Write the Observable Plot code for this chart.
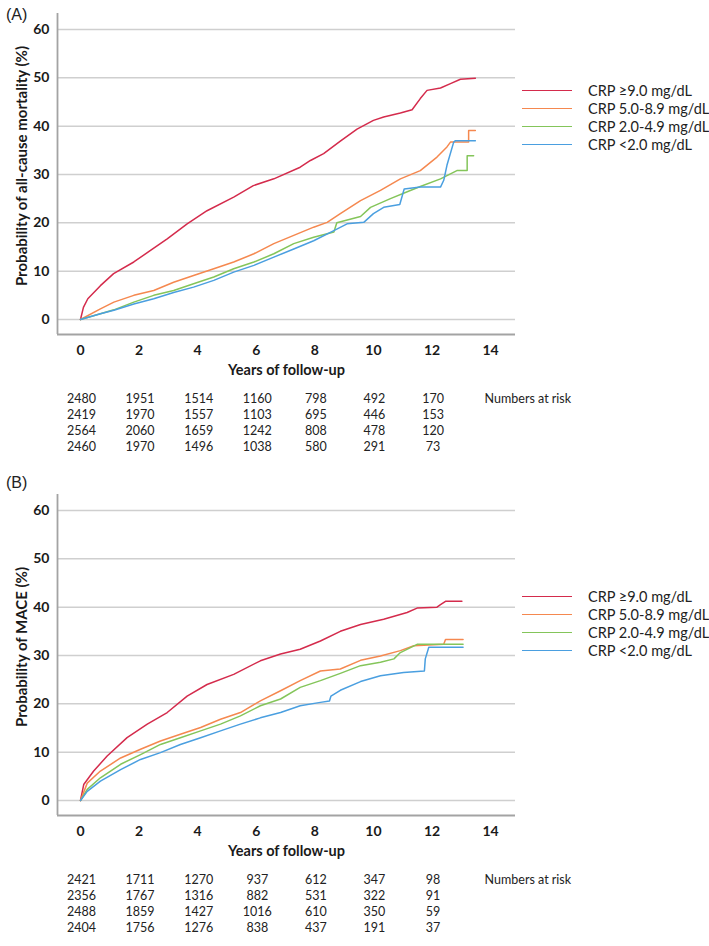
<!DOCTYPE html>
<html>
<head>
<meta charset="utf-8">
<script src="https://cdn.jsdelivr.net/npm/d3@7"></script>
<script src="https://cdn.jsdelivr.net/npm/@observablehq/plot@0.6"></script>
<style>
  body { margin: 0; background: #fff; }
  #root { position: relative; width: 709px; height: 946px; overflow: hidden; font-family: Lato, "Open Sans", sans-serif; color: #1a1a1a; }
  .abs { position: absolute; left: 0; }
  .plabel { position: absolute; left: 6px; font-family: "Liberation Sans", Arial, sans-serif; font-size: 16px; line-height: 16px; color: #222; }
  .lrow { position: absolute; left: 522px; height: 0; }
  .lsw { position: absolute; left: 0; top: -1px; width: 50px; height: 0; border-top: 1.6px solid; }
  .ltx { position: absolute; left: 66px; top: -9px; line-height: 18px; font-size: 14.5px; white-space: nowrap; color: #222; }
</style>
</head>
<body>
<div id="root"></div>
<script>
// ---------- data ----------
const groups = ["CRP ≥9.0 mg/dL", "CRP 5.0-8.9 mg/dL", "CRP 2.0-4.9 mg/dL", "CRP <2.0 mg/dL"];
const colors = ["#d42b4c", "#f5884f", "#84c55a", "#4a9fe0"];
const xTicks = [0, 2, 4, 6, 8, 10, 12, 14];
const yTicks = [0, 10, 20, 30, 40, 50, 60];
const riskTimes = [0, 2, 4, 6, 8, 10, 12];
const xLabel = "Years of follow-up";
const yLabelA = "Probability of all-cause mortality (%)";
const yLabelB = "Probability of MACE (%)";
const riskLabel = "Numbers at risk";

// Panel A: all-cause mortality, [years, %]
const mortRed = [[0,0],[0.1,2.5],[0.25,4.3],[0.68,7],[1.13,9.5],[1.82,11.9],[2.39,14.3],[2.96,16.7],[3.64,19.8],[4.32,22.5],[5.23,25.3],[5.9,27.7],[6.6,29.1],[7.5,31.5],[7.85,32.9],[8.3,34.3],[8.87,36.9],[9.44,39.4],[10.0,41.2],[10.35,41.9],[10.92,42.7],[11.32,43.4],[11.6,45.7],[11.83,47.4],[12.29,47.9],[12.63,48.8],[12.97,49.7],[13.48,49.9]];
const mortOrange = [[0,0],[0.68,2.2],[1.14,3.6],[1.82,5.0],[2.5,6.0],[3.18,7.7],[3.86,9.1],[4.55,10.5],[5.23,11.9],[5.92,13.6],[6.6,15.7],[7.28,17.4],[7.96,19.1],[8.42,20.1],[8.87,21.9],[9.56,24.6],[10.24,26.7],[10.92,29.1],[11.6,30.8],[12.17,33.6],[12.51,35.7],[12.63,36.7],[13.25,36.7],[13.25,39.1],[13.48,39.1]];
const mortGreen = [[0,0],[0.68,1.2],[1.14,2.0],[1.82,3.6],[2.5,5.0],[3.18,6.0],[3.86,7.4],[4.55,8.8],[5.23,10.5],[5.92,11.9],[6.6,13.6],[7.28,15.7],[7.96,17.0],[8.65,18.1],[8.75,20.0],[9.56,21.3],[9.9,23.2],[10.58,25.0],[11.26,26.7],[11.6,27.5],[12.29,29.1],[12.85,30.8],[13.2,30.8],[13.2,33.9],[13.42,33.9]];
const mortBlue = [[0,0],[0.68,1.2],[1.14,1.9],[1.82,3.2],[2.5,4.3],[3.18,5.6],[3.86,6.7],[4.55,8.1],[5.23,9.8],[5.92,11.2],[6.6,12.9],[7.28,14.6],[7.96,16.3],[8.65,18.4],[9.1,19.8],[9.67,20.1],[10.0,21.9],[10.35,23.2],[10.9,23.8],[11.05,27.0],[11.6,27.4],[12.29,27.4],[12.4,28.8],[12.51,31.9],[12.74,36.7],[12.8,37.0],[13.48,37.0]];

// Panel B: MACE, [years, %]
const maceRed = [[0,0],[0.11,3.3],[0.45,6.1],[0.91,9.2],[1.59,13.0],[2.28,15.8],[2.96,18.2],[3.64,21.6],[4.32,24.0],[5.23,26.1],[6.14,28.9],[6.83,30.3],[7.5,31.3],[8.19,33.0],[8.87,35.0],[9.56,36.4],[10.35,37.5],[11.15,38.9],[11.49,39.8],[12.17,40.0],[12.29,40.5],[12.46,41.2],[13.02,41.2]];
const maceOrange = [[0,0],[0.23,3.6],[0.68,6.1],[1.37,8.8],[2.05,10.6],[2.73,12.3],[3.41,13.7],[4.1,15.1],[4.78,16.8],[5.46,18.2],[6.14,20.6],[6.83,22.7],[7.5,24.8],[8.19,26.8],[8.87,27.2],[9.56,29.0],[10.24,29.9],[10.92,31.0],[11.38,32.0],[12.4,32.3],[12.46,33.3],[13.06,33.3]];
const maceGreen = [[0,0],[0.23,2.3],[0.68,4.7],[1.37,7.5],[2.05,9.5],[2.73,11.6],[3.41,13.0],[4.1,14.4],[4.78,15.8],[5.46,17.5],[6.14,19.6],[6.83,21.0],[7.5,23.4],[8.19,24.8],[8.87,26.3],[9.56,27.9],[10.24,28.6],[10.7,29.3],[10.92,30.6],[11.49,32.3],[13.06,32.3]];
const maceBlue = [[0,0],[0.23,1.9],[0.68,4.0],[1.37,6.4],[2.05,8.5],[2.73,9.9],[3.41,11.6],[4.1,13.0],[4.78,14.4],[5.46,15.8],[6.14,17.1],[6.83,18.2],[7.5,19.6],[8.19,20.3],[8.5,20.6],[8.55,21.6],[8.87,22.8],[9.56,24.6],[10.24,25.8],[11.03,26.5],[11.74,26.8],[11.77,29.3],[11.89,31.7],[13.06,31.7]];

// Numbers at risk (rows in group order)
const riskA = [
  [2480, 1951, 1514, 1160, 798, 492, 170],
  [2419, 1970, 1557, 1103, 695, 446, 153],
  [2564, 2060, 1659, 1242, 808, 478, 120],
  [2460, 1970, 1496, 1038, 580, 291, 73]
];
const riskB = [
  [2421, 1711, 1270, 937, 612, 347, 98],
  [2356, 1767, 1316, 882, 531, 322, 91],
  [2488, 1859, 1427, 1016, 610, 350, 59],
  [2404, 1756, 1276, 838, 437, 191, 37]
];

// ---------- layout ----------
const xDomain = [-0.785, 14.85];
const yDomain = [-3.1, 63.3];
const W = 709, ML = 57, MR = 194;
const root = document.getElementById("root");

function place(el, top) {
  const wrap = document.createElement("div");
  wrap.className = "abs";
  wrap.style.top = top + "px";
  wrap.appendChild(el);
  root.appendChild(wrap);
}

function mainPlot(series, ylabel) {
  const data = [];
  series.forEach((pts, i) => pts.forEach(([t, v]) => data.push({t, v, g: groups[i]})));
  return Plot.plot({
    width: W, height: 380,
    marginLeft: ML, marginRight: MR, marginTop: 13, marginBottom: 46,
    x: {domain: xDomain},
    y: {domain: yDomain},
    color: {domain: groups, range: colors},
    style: {fontFamily: "Lato, 'Open Sans', sans-serif", fontSize: "13px", color: "#1a1a1a", background: "white", overflow: "visible"},
    marks: [
      Plot.gridY(yTicks, {stroke: "#cfcfcf", strokeOpacity: 1, strokeWidth: 1.5}),
      Plot.ruleX([xDomain[0]], {stroke: "#a3a3a3", strokeWidth: 1.8}),
      Plot.ruleY([yDomain[0]], {stroke: "#a3a3a3", strokeWidth: 1.8}),
      Plot.axisY(yTicks, {tickSize: 0, tickPadding: 8, fontWeight: "bold", fontSize: 14, label: null}),
      Plot.axisX(xTicks, {tickSize: 0, tickPadding: 11, fontWeight: "bold", fontSize: 14, label: null}),
      Plot.line(data, {x: "t", y: "v", z: "g", stroke: "g", strokeWidth: 1.5}),
      Plot.text([ylabel], {frameAnchor: "left", textAnchor: "middle", lineAnchor: "middle", rotate: -90, dx: -35, dy: -8, fontWeight: "bold", fontSize: 15}),
      Plot.text([xLabel], {frameAnchor: "bottom", textAnchor: "middle", lineAnchor: "middle", dy: 36, fontWeight: "bold", fontSize: 14.5})
    ]
  });
}

function riskPlot(rows) {
  const data = [];
  rows.forEach((r, i) => r.forEach((n, j) => data.push({t: riskTimes[j], row: i, n: String(n)})));
  return Plot.plot({
    width: W, height: 75,
    marginLeft: ML, marginRight: MR, marginTop: 12, marginBottom: 13,
    x: {domain: xDomain, axis: null},
    y: {type: "point", domain: [0, 1, 2, 3], padding: 0, axis: null},
    style: {fontFamily: "Lato, 'Open Sans', sans-serif", fontSize: "12px", color: "#222", background: "transparent", overflow: "visible"},
    marks: [
      Plot.text(data, {x: "t", y: "row", text: "n", dx: 1, fontSize: 12.5}),
      Plot.text([riskLabel], {x: [14], y: [0], dx: -6, textAnchor: "start", fontSize: 12.5})
    ]
  });
}

function legend(top0) {
  groups.forEach((g, i) => {
    const row = document.createElement("div");
    row.className = "lrow";
    row.style.top = (top0 + i * 18) + "px";
    const sw = document.createElement("div");
    sw.className = "lsw";
    sw.style.borderColor = colors[i];
    const tx = document.createElement("div");
    tx.className = "ltx";
    tx.textContent = g;
    row.appendChild(sw);
    row.appendChild(tx);
    root.appendChild(row);
  });
}

function panelLabel(text, top) {
  const d = document.createElement("div");
  d.className = "plabel";
  d.style.top = top + "px";
  d.textContent = text;
  root.appendChild(d);
}

// Panel A
place(mainPlot([mortRed, mortOrange, mortGreen, mortBlue], yLabelA), 0);
place(riskPlot(riskA), 385);
legend(91);
panelLabel("(A)", 7);

// Panel B
place(mainPlot([maceRed, maceOrange, maceGreen, maceBlue], yLabelB), 481);
place(riskPlot(riskB), 866);
legend(597);
panelLabel("(B)", 475);
</script>
</body>
</html>
